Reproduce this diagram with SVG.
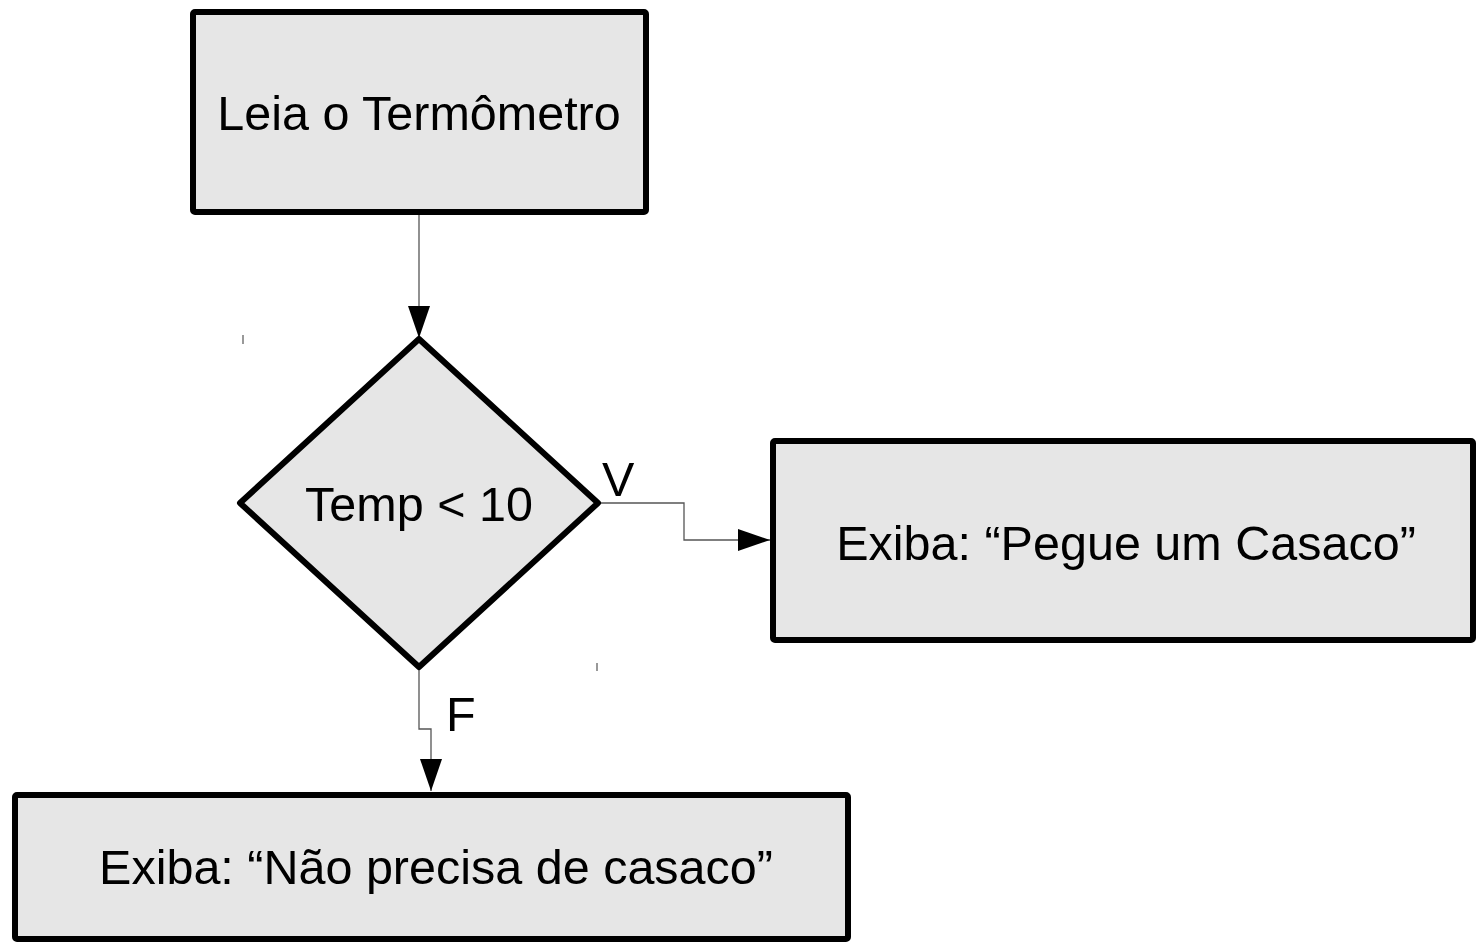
<svg xmlns="http://www.w3.org/2000/svg" width="1477" height="943" viewBox="0 0 1477 943">
<style>
.box{fill:#e6e6e6;stroke:#000;stroke-width:6;stroke-linejoin:round}
.lbl{font-family:"Liberation Sans",Arial,sans-serif;font-size:48.5px;fill:#000}
.c{text-anchor:middle}
.conn{fill:none;stroke:#555;stroke-width:1.3}
.tick{stroke:#777;stroke-width:1.5}
</style>
<defs>
<marker id="arr" viewBox="0 0 32 22" refX="32" refY="11" markerWidth="32" markerHeight="22" markerUnits="userSpaceOnUse" orient="auto">
<path d="M0,0 L32,11 L0,22 Z" fill="#000"/>
</marker>
</defs>
<rect width="1477" height="943" fill="#fff"/>
<g id="connectors">
<path class="conn" d="M419,213 L419,338" marker-end="url(#arr)"/>
<path class="conn" d="M598,503 L684,503 L684,540 L770,540" marker-end="url(#arr)"/>
<path class="conn" d="M419,667 L419,729 L431,729 L431,791" marker-end="url(#arr)"/>
<text class="lbl" x="602" y="496">V</text>
<text class="lbl" x="446" y="731">F</text>
</g>
<g id="n1">
<rect class="box" x="193" y="12" width="453" height="200" rx="2"/>
<text class="lbl c" x="419" y="130">Leia o Termômetro</text>
</g>
<g id="n2">
<path class="box" d="M419,339 L598,503 L419,667 L240,503 Z"/>
<text class="lbl c" x="419" y="521">Temp &lt; 10</text>
</g>
<g id="n3">
<rect class="box" x="773" y="441" width="700" height="199" rx="2"/>
<text class="lbl c" x="1126" y="560">Exiba: “Pegue um Casaco”</text>
</g>
<g id="n4">
<rect class="box" x="15" y="795" width="833" height="144" rx="2"/>
<text class="lbl c" x="436" y="884">Exiba: “Não precisa de casaco”</text>
</g>
<line class="tick" x1="243" y1="335" x2="243" y2="344"/>
<line class="tick" x1="597" y1="663" x2="597" y2="671"/>
</svg>
